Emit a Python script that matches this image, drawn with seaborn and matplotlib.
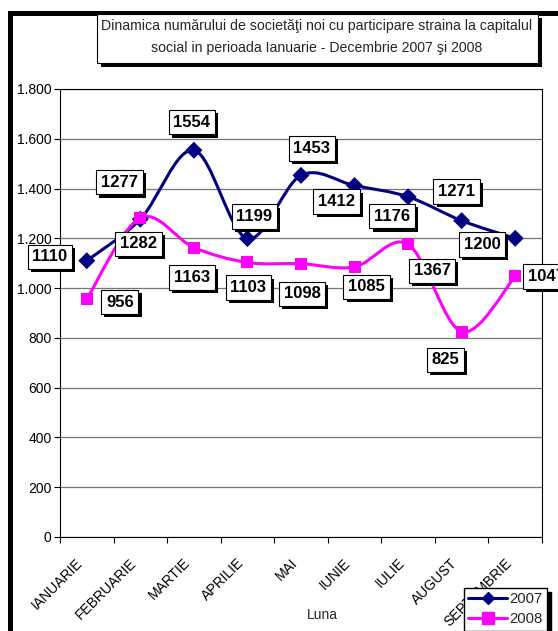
import numpy as np
import pandas as pd
import matplotlib
matplotlib.use("Agg")
import matplotlib.pyplot as plt
import matplotlib.patheffects as pe
import matplotlib.transforms as mtransforms
from matplotlib.path import Path
from matplotlib.patches import PathPatch, Rectangle
from matplotlib.lines import Line2D
from matplotlib.ticker import FuncFormatter
import seaborn as sns

months = ["IANUARIE", "FEBRUARIE", "MARTIE", "APRILIE", "MAI",
          "IUNIE", "IULIE", "AUGUST", "SEPTEMBRIE"]
values_2007 = [1110, 1277, 1554, 1199, 1453, 1412, 1367, 1271, 1200]
values_2008 = [956, 1282, 1163, 1103, 1098, 1085, 1176, 825, 1047]
years = ["2007", "2008"]

# where Excel dropped the value labels (pixels right / up from the point)
label_off_2007 = [(-37, 4), (-21, 37), (-2, 28), (7, 22), (11, 27),
                  (-18, -16), (24, -74), (-5, 29), (-33, -6)]
label_off_2008 = [(33, -3), (-2, -26), (-2, -30), (1, -25), (1, -30),
                  (12, -20), (-16, 28), (-16, -28), (31, 0)]

colors = {"2007": "#000080", "2008": "#FF00FF"}
markers = {"2007": "D", "2008": "s"}

df = pd.DataFrame({
    "luna": list(range(len(months))) * 2,
    "valoare": values_2007 + values_2008,
    "an": ["2007"] * len(months) + ["2008"] * len(months),
})

sns.set_theme(style="white")
plt.rcParams["font.family"] = ["Liberation Sans", "DejaVu Sans"]

W, H = 558, 631
fig = plt.figure(figsize=(W / 100, H / 100), dpi=100)
ax = fig.add_axes([60 / W, 1 - 537 / H, (542 - 60) / W, (537 - 89) / H])


def smooth_path(xs, ys):
    # excel-like smoothed line: bezier segments through the points
    pts = np.column_stack([xs, ys]).astype(float)
    n = len(pts)
    verts = [pts[0]]
    codes = [Path.MOVETO]
    for i in range(n - 1):
        p0 = pts[i - 1] if i > 0 else pts[i]
        p1, p2 = pts[i], pts[i + 1]
        p3 = pts[i + 2] if i + 2 < n else pts[i + 1]
        verts += [p1 + (p2 - p0) / 6, p2 - (p3 - p1) / 6, p2]
        codes += [Path.CURVE4] * 3
    return Path(verts, codes)


for an, vals in zip(years, [values_2007, values_2008]):
    ax.add_patch(PathPatch(smooth_path(range(len(vals)), vals), fill=False,
                           edgecolor=colors[an], lw=2.2, zorder=2))

sns.scatterplot(data=df, x="luna", y="valoare", hue="an", style="an",
                palette=colors, markers=markers, s=75, linewidth=0,
                legend=False, zorder=3, ax=ax)

ax.set_xlim(-0.5, len(months) - 0.5)
ax.set_ylim(0, 1800)
ax.set_yticks(range(0, 1801, 200))
ax.yaxis.set_major_formatter(FuncFormatter(lambda v, p: f"{v:,.0f}".replace(",", ".")))
ax.set_xticks(range(len(months)))
ax.set_xticks(np.arange(-0.5, len(months)), minor=True)
ax.tick_params(axis="x", which="major", length=0, pad=17, labelsize=10, colors="black")
ax.tick_params(axis="x", which="minor", length=4, width=0.8, color="black", bottom=True)
ax.tick_params(axis="y", length=4, width=0.8, color="black", left=True, pad=2,
               labelsize=10, colors="black")
ax.set_xticklabels(months, rotation=45, ha="right", va="center",
                   rotation_mode="anchor")
# month names sit a little left of the category centre
shift = mtransforms.ScaledTranslation(-6 / 100, 0, fig.dpi_scale_trans)
for lab in ax.get_xticklabels():
    lab.set_transform(lab.get_transform() + shift)
ax.set_xlabel("")
ax.set_ylabel("")
ax.grid(axis="y", color="#767676", lw=0.9)
ax.set_axisbelow(True)
for s in ax.spines.values():
    s.set_color("black")
    s.set_linewidth(0.8)

shadow = [pe.SimplePatchShadow(offset=(2.3, -2.3), shadow_rgbFace="black", alpha=1),
          pe.Normal()]

for vals, offs in [(values_2007, label_off_2007), (values_2008, label_off_2008)]:
    for i, (v, (dx, dy)) in enumerate(zip(vals, offs)):
        t = ax.annotate(str(v), (i, v), xytext=(dx * 0.72, dy * 0.72),
                        textcoords="offset points", ha="center", va="center",
                        fontsize=12, fontweight="bold", color="black",
                        annotation_clip=False, zorder=5,
                        bbox=dict(boxstyle="square,pad=0.28", fc="white",
                                  ec="black", lw=0.8))
        t.get_bbox_patch().set_path_effects(shadow)

# title box
tb = Rectangle((97 / W, 1 - 63 / H), (538 - 97) / W, (63 - 14) / H,
               transform=fig.transFigure, fc="white", ec="black", lw=0.8, zorder=6)
tb.set_path_effects([pe.SimplePatchShadow(offset=(2.8, -2.8), shadow_rgbFace="black",
                                          alpha=1), pe.Normal()])
fig.patches.append(tb)
fig.text(317 / W, 1 - 26 / H,
         "Dinamica numărului de societăţi noi cu participare straina la capitalul",
         ha="center", va="center", fontsize=10.2, zorder=7)
fig.text(317 / W, 1 - 48 / H, "social in perioada Ianuarie - Decembrie 2007 şi 2008",
         ha="center", va="center", fontsize=10.2, zorder=7)

fig.text(322 / W, 1 - 615 / H, "Luna", ha="center", va="center", fontsize=10)

# outer chart frame
fig.patches.append(Rectangle((9.5 / W, -0.1), 1.2, (H - 12.5) / H + 0.1,
                             transform=fig.transFigure, fill=False,
                             ec="black", lw=3.6, zorder=1))

handles = [Line2D([], [], color=colors[a], marker=markers[a], lw=2.2,
                  markersize=6 if a == "2007" else 8) for a in years]
fig.legend(handles, years, loc="upper left", bbox_to_anchor=(464 / W, 1 - 588 / H),
           frameon=True, fancybox=False, framealpha=1, edgecolor="black",
           fontsize=10.7, handlelength=2.6, handletextpad=0.15, borderpad=0.3,
           labelspacing=0.4, borderaxespad=0,
           shadow={"color": "black", "alpha": 1, "ox": 3, "oy": -3})

fig.savefig("out.png", dpi=100)
